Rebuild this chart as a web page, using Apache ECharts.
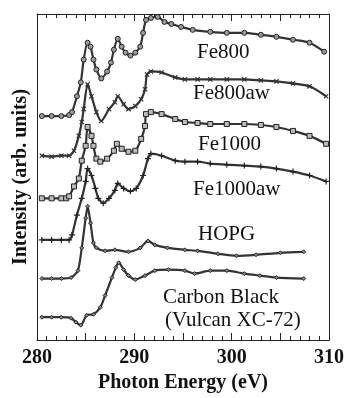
<!DOCTYPE html>
<html>
<head>
<meta charset="utf-8">
<script src="https://cdn.jsdelivr.net/npm/echarts@6/dist/echarts.min.js"></script>
<style>
  html, body { margin: 0; padding: 0; background: #fff; }
  #chart { width: 347px; height: 398px; }
</style>
</head>
<body>
<div id="chart"></div>
<script>
// photon energy (eV) and offset intensity (arb. units)
const fe800E = [280.5, 281.5, 282.5, 283.3, 283.6, 284.1, 284.5, 284.8, 285.2, 285.5, 285.8, 286.1, 286.6, 287.2, 287.6, 287.9, 288.3, 288.7, 289.1, 289.6, 290.1, 290.6, 290.9, 291.2, 291.7, 292.4, 293.1, 293.8, 294.8, 296.0, 297.8, 299.5, 301.3, 303.0, 304.6, 306.3, 308.0, 309.5];
const fe800I = [22.6, 22.6, 22.6, 22.7, 23.0, 24.6, 26.0, 28.3, 30.0, 29.6, 28.3, 27.3, 26.4, 27.1, 28.0, 29.3, 30.4, 29.6, 29.0, 28.7, 29.0, 29.6, 31.0, 32.3, 32.5, 32.6, 32.1, 31.9, 31.6, 31.3, 31.1, 31.0, 31.0, 30.8, 30.6, 30.3, 30.0, 29.1];

const fe800awE = [280.5, 281.5, 282.5, 283.3, 283.8, 284.3, 284.6, 284.8, 285.2, 285.6, 286.1, 286.6, 287.4, 288.0, 288.3, 288.9, 289.4, 290.1, 290.7, 291.1, 291.3, 291.7, 292.8, 294.2, 295.2, 296.5, 297.8, 299.5, 301.3, 303.0, 304.6, 306.3, 308.0, 309.7];
const fe800awI = [18.6, 18.5, 18.6, 18.6, 19.1, 20.6, 22.0, 23.3, 25.8, 24.6, 23.0, 22.1, 23.3, 24.0, 24.6, 23.8, 23.3, 23.6, 24.3, 25.3, 26.8, 27.1, 27.0, 26.5, 26.3, 26.3, 26.3, 26.3, 26.3, 26.2, 26.1, 25.9, 25.6, 24.6];

const fe1000E = [280.5, 281.5, 282.5, 283.0, 283.3, 283.8, 284.3, 284.6, 285.0, 285.2, 285.6, 285.8, 286.1, 286.5, 287.2, 287.9, 288.2, 288.7, 289.4, 290.1, 290.7, 291.1, 291.2, 291.7, 292.8, 294.2, 295.2, 296.5, 297.8, 299.5, 301.3, 303.0, 304.6, 306.3, 308.0, 309.7];
const fe1000I = [14.3, 14.3, 14.3, 14.3, 14.5, 15.5, 16.3, 18.1, 19.6, 21.5, 20.6, 19.6, 18.3, 18.0, 18.3, 19.1, 19.8, 19.3, 19.0, 19.1, 20.3, 21.6, 22.8, 23.0, 22.8, 22.3, 22.0, 21.9, 21.8, 21.8, 21.8, 21.7, 21.5, 21.1, 20.6, 19.8];

const fe1000awE = [280.5, 281.5, 282.5, 283.3, 283.6, 284.1, 284.6, 285.0, 285.2, 285.6, 286.0, 286.3, 286.8, 287.4, 288.0, 288.3, 288.9, 289.6, 290.2, 290.9, 291.4, 291.7, 292.8, 294.2, 295.2, 296.5, 297.8, 299.5, 301.3, 303.0, 304.6, 306.3, 308.0, 309.7];
const fe1000awI = [10.1, 10.1, 10.1, 10.1, 10.6, 12.6, 14.3, 16.0, 17.3, 16.6, 15.3, 14.3, 13.8, 14.3, 15.1, 15.8, 15.3, 15.0, 15.3, 16.6, 18.3, 18.8, 18.6, 18.1, 18.0, 18.0, 17.8, 17.7, 17.6, 17.5, 17.3, 17.0, 16.6, 16.0];

const hopgE = [280.5, 281.5, 282.5, 283.5, 284.2, 284.6, 285.0, 285.2, 285.5, 285.8, 286.1, 287.0, 288.0, 289.4, 290.6, 291.4, 292.1, 293.4, 295.2, 296.5, 298.6, 300.5, 302.5, 305.0, 307.4];
const hopgI = [6.2, 6.2, 6.2, 6.3, 7.0, 9.3, 12.3, 13.5, 11.8, 9.8, 9.3, 9.0, 9.1, 8.9, 9.3, 10.0, 9.6, 9.3, 9.1, 9.0, 8.7, 8.5, 8.6, 8.8, 8.9];

const cbE = [280.5, 281.5, 282.5, 283.5, 284.0, 284.5, 285.1, 285.8, 286.5, 287.0, 287.7, 288.1, 288.4, 288.9, 289.4, 290.1, 291.1, 292.1, 293.5, 295.2, 296.2, 297.8, 299.5, 301.3, 302.9, 304.6, 307.4];
const cbI = [2.3, 2.3, 2.3, 2.2, 1.8, 1.5, 2.5, 2.6, 3.3, 4.5, 6.3, 7.3, 7.8, 7.1, 6.5, 6.1, 6.5, 7.0, 7.1, 7.0, 6.7, 7.0, 7.0, 6.7, 6.5, 6.3, 6.2];

const xTicks = [280, 290, 300, 310];

const pair = (xs, ys) => xs.map((x, i) => [x, ys[i]]);

const FONT = 'Liberation Serif';
const PLUS = 'path://M4,0H6V4H10V6H6V10H4V6H0V4H4Z';

const makeSeries = (name, data, symbol, size, itemStyle, rotate) => ({
  name,
  type: 'line',
  data,
  smooth: 0.25,
  symbol,
  symbolSize: size,
  symbolRotate: rotate || 0,
  showSymbol: true,
  lineStyle: { color: '#333', width: 2.2 },
  itemStyle,
  z: 3,
});

// curve names drawn as title blocks so the serif font is honoured
const label = (text, left, top) => ({
  text,
  left,
  top,
  padding: 0,
  textStyle: { fontFamily: FONT, fontWeight: 'normal', fontSize: 21, color: '#111' },
});

const chart = echarts.init(document.getElementById('chart'), null, { renderer: 'canvas' });

const tickAxis = {
  type: 'value',
  min: 280,
  max: 310,
  interval: 5,
  axisLine: { show: true, onZero: false, lineStyle: { color: '#222', width: 1 } },
  axisTick: { show: true, inside: true, length: 7, lineStyle: { color: '#222' } },
  minorTick: { show: true, splitNumber: 5, length: 4, lineStyle: { color: '#222' } },
  splitLine: { show: false },
};

chart.setOption({
  animation: false,
  title: [
    label('Fe800', 197, 42),
    label('Fe800aw', 193, 83),
    label('Fe1000', 198, 134),
    label('Fe1000aw', 193, 179),
    label('HOPG', 198, 224),
    label('Carbon Black', 163, 287),
    label('(Vulcan XC-72)', 165, 310),
  ],
  grid: { left: 37, right: 14, top: 14, bottom: 55 },
  xAxis: [
    Object.assign({}, tickAxis, {
      position: 'bottom',
      name: 'Photon Energy (eV)',
      nameLocation: 'middle',
      nameGap: 33,
      nameTextStyle: { fontFamily: FONT, fontWeight: 'bold', fontSize: 20, color: '#111' },
      axisLabel: {
        margin: 8,
        fontFamily: FONT,
        fontWeight: 'bold',
        fontSize: 20,
        color: '#111',
        formatter: (v) => (xTicks.includes(v) ? String(v) : ''),
      },
    }),
    Object.assign({}, tickAxis, {
      position: 'top',
      axisLabel: { show: false },
    }),
  ],
  yAxis: [
    {
      type: 'value',
      min: 0,
      max: 32.9,
      interval: 32.9,
      name: 'Intensity (arb. units)',
      nameLocation: 'middle',
      nameGap: 6,
      nameTextStyle: { fontFamily: FONT, fontWeight: 'bold', fontSize: 20, color: '#111' },
      axisLine: { show: true, lineStyle: { color: '#222' } },
      axisTick: { show: true, inside: true, length: 5, lineStyle: { color: '#222' } },
      axisLabel: { show: false },
      splitLine: { show: false },
    },
    {
      type: 'value',
      min: 0,
      max: 32.9,
      position: 'right',
      axisLine: { show: true, lineStyle: { color: '#222' } },
      axisTick: { show: false },
      axisLabel: { show: false },
      splitLine: { show: false },
    },
  ],
  series: [
    makeSeries('Fe800', pair(fe800E, fe800I), 'circle', 5, { color: '#9a9a9a', borderColor: '#222', borderWidth: 1 }),
    makeSeries('Fe800aw', pair(fe800awE, fe800awI), PLUS, 6, { color: '#333', borderWidth: 0 }, 45),
    makeSeries('Fe1000', pair(fe1000E, fe1000I), 'rect', 5, { color: '#bbb', borderColor: '#222', borderWidth: 1 }),
    makeSeries('Fe1000aw', pair(fe1000awE, fe1000awI), PLUS, 6, { color: '#222', borderWidth: 0 }),
    makeSeries('HOPG', pair(hopgE, hopgI), 'diamond', 4, { color: '#888', borderColor: '#222', borderWidth: 1 }),
    makeSeries('Carbon Black', pair(cbE, cbI), 'diamond', 4, { color: '#888', borderColor: '#222', borderWidth: 1 }),
  ],
});
</script>
</body>
</html>
